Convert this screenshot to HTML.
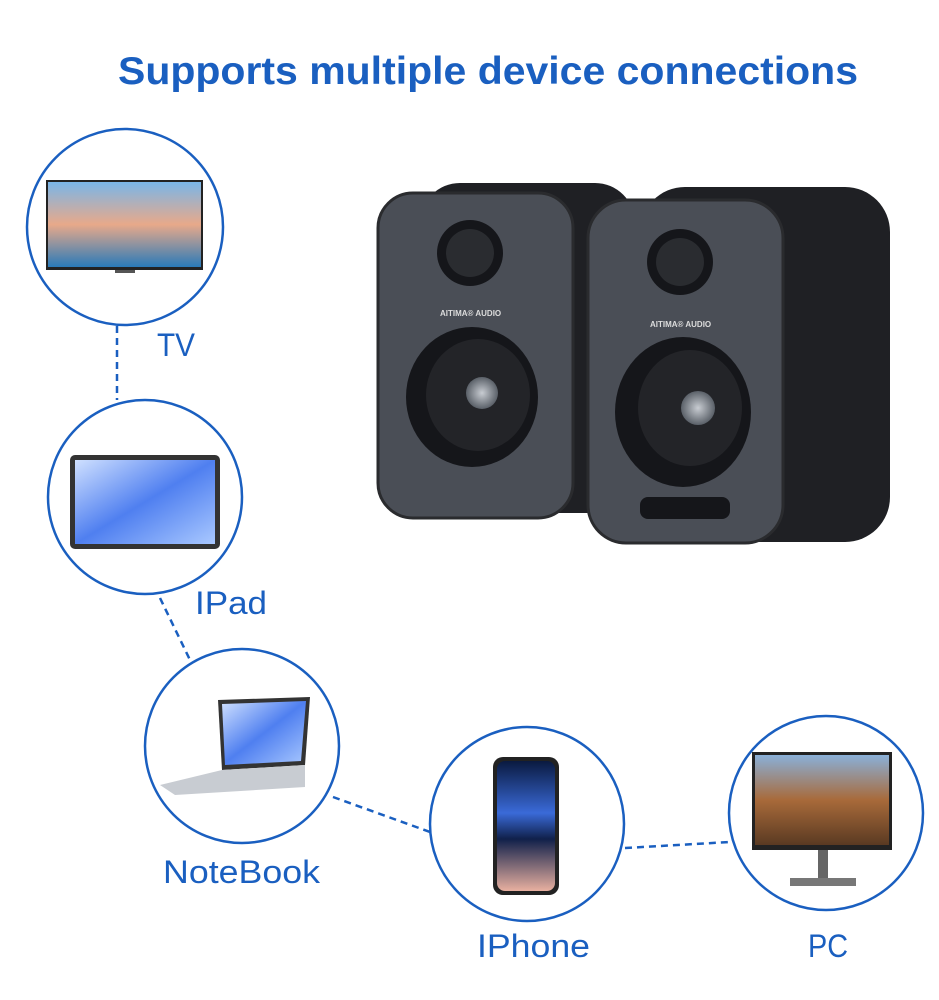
<!DOCTYPE html>
<html><head><meta charset="utf-8"><style>
html,body{margin:0;padding:0;background:#fff;}
svg{display:block;}
</style></head><body>
<svg width="939" height="1000" viewBox="0 0 939 1000" xmlns="http://www.w3.org/2000/svg">
<defs>
<linearGradient id="sky" x1="0" y1="0" x2="0" y2="1"><stop offset="0" stop-color="#7ab6e8"/><stop offset="0.5" stop-color="#e8a98a"/><stop offset="1" stop-color="#2a7ab8"/></linearGradient>
<linearGradient id="fl" x1="0" y1="0" x2="1" y2="1"><stop offset="0" stop-color="#cfe0ff"/><stop offset="0.5" stop-color="#4f7ff0"/><stop offset="1" stop-color="#a9c8ff"/></linearGradient>
<linearGradient id="ph" x1="0" y1="0" x2="0" y2="1"><stop offset="0" stop-color="#0a1a40"/><stop offset="0.4" stop-color="#3a6ad8"/><stop offset="0.6" stop-color="#10204a"/><stop offset="1" stop-color="#e8b0a0"/></linearGradient>
<linearGradient id="mt" x1="0" y1="0" x2="0" y2="1"><stop offset="0" stop-color="#8ab0d8"/><stop offset="0.5" stop-color="#a86a3a"/><stop offset="1" stop-color="#5a3a22"/></linearGradient>
<radialGradient id="cap"><stop offset="0" stop-color="#c8ccd2"/><stop offset="1" stop-color="#5a6068"/></radialGradient>
</defs>
<text x="118" y="84" textLength="740" lengthAdjust="spacingAndGlyphs" font-family="Liberation Sans, sans-serif" font-weight="bold" font-size="39" fill="#1a5fc0">Supports multiple device connections</text>

<g stroke="#1a5fc0" stroke-width="2.5" stroke-dasharray="7,5" fill="none">
<line x1="117" y1="326" x2="117" y2="400"/>
<line x1="160" y1="598" x2="190" y2="660"/>
<line x1="333" y1="797" x2="430" y2="832"/>
<line x1="625" y1="848" x2="730" y2="842"/>
</g>
<g stroke="#1a5fc0" stroke-width="2.5" fill="#fff">
<circle cx="125" cy="227" r="98"/>
<circle cx="145" cy="497" r="97"/>
<circle cx="242" cy="746" r="97"/>
<circle cx="527" cy="824" r="97"/>
<circle cx="826" cy="813" r="97"/>
</g>
<rect x="46" y="180" width="157" height="90" fill="#222"/>
<rect x="48" y="182" width="153" height="85" fill="url(#sky)"/>
<rect x="115" y="270" width="20" height="3" fill="#555"/>
<rect x="70" y="455" width="150" height="94" rx="5" fill="#333"/>
<rect x="75" y="460" width="140" height="84" fill="url(#fl)"/>
<polygon points="218,700 310,697 305,765 222,770" fill="#333"/>
<polygon points="222,704 306,701 301,761 225,765" fill="url(#fl)"/>
<polygon points="160,785 222,770 305,765 305,787 175,795" fill="#c8ccd2"/>
<rect x="493" y="757" width="66" height="138" rx="10" fill="#222"/>
<rect x="497" y="761" width="58" height="130" rx="8" fill="url(#ph)"/>
<rect x="752" y="752" width="140" height="98" fill="#222"/>
<rect x="755" y="755" width="134" height="90" fill="url(#mt)"/>
<rect x="818" y="850" width="10" height="30" fill="#666"/>
<rect x="790" y="878" width="66" height="8" fill="#777"/>

<g font-family="Liberation Sans, sans-serif" font-size="32" fill="#1a5fc0">
<text x="157" y="356" textLength="38" lengthAdjust="spacingAndGlyphs">TV</text>
<text x="195" y="614" textLength="72" lengthAdjust="spacingAndGlyphs">IPad</text>
<text x="163" y="883" textLength="157" lengthAdjust="spacingAndGlyphs">NoteBook</text>
<text x="477" y="957" textLength="113" lengthAdjust="spacingAndGlyphs">IPhone</text>
<text x="808" y="957" textLength="40" lengthAdjust="spacingAndGlyphs">PC</text>
</g>

<rect x="420" y="183" width="215" height="330" rx="40" fill="#1f2024"/>
<rect x="378" y="193" width="195" height="325" rx="35" fill="#4a4e56" stroke="#2a2b2e" stroke-width="3"/>
<circle cx="470" cy="253" r="33" fill="#15161a"/>
<circle cx="470" cy="253" r="24" fill="#2a2c30"/>
<text x="440" y="316" font-family="Liberation Sans, sans-serif" font-size="8" font-weight="bold" fill="#ddd">AITIMA® AUDIO</text>
<ellipse cx="472" cy="397" rx="66" ry="70" fill="#15161a"/>
<ellipse cx="478" cy="395" rx="52" ry="56" fill="#232428"/>
<circle cx="482" cy="393" r="16" fill="url(#cap)"/>

<rect x="640" y="187" width="250" height="355" rx="45" fill="#1f2024"/>
<rect x="588" y="200" width="195" height="343" rx="38" fill="#4a4e56" stroke="#2a2b2e" stroke-width="3"/>
<circle cx="680" cy="262" r="33" fill="#15161a"/>
<circle cx="680" cy="262" r="24" fill="#2a2c30"/>
<text x="650" y="327" font-family="Liberation Sans, sans-serif" font-size="8" font-weight="bold" fill="#ddd">AITIMA® AUDIO</text>
<ellipse cx="683" cy="412" rx="68" ry="75" fill="#15161a"/>
<ellipse cx="690" cy="408" rx="52" ry="58" fill="#232428"/>
<circle cx="698" cy="408" r="17" fill="url(#cap)"/>
<rect x="640" y="497" width="90" height="22" rx="8" fill="#15161a"/>
</svg>
</body></html>
